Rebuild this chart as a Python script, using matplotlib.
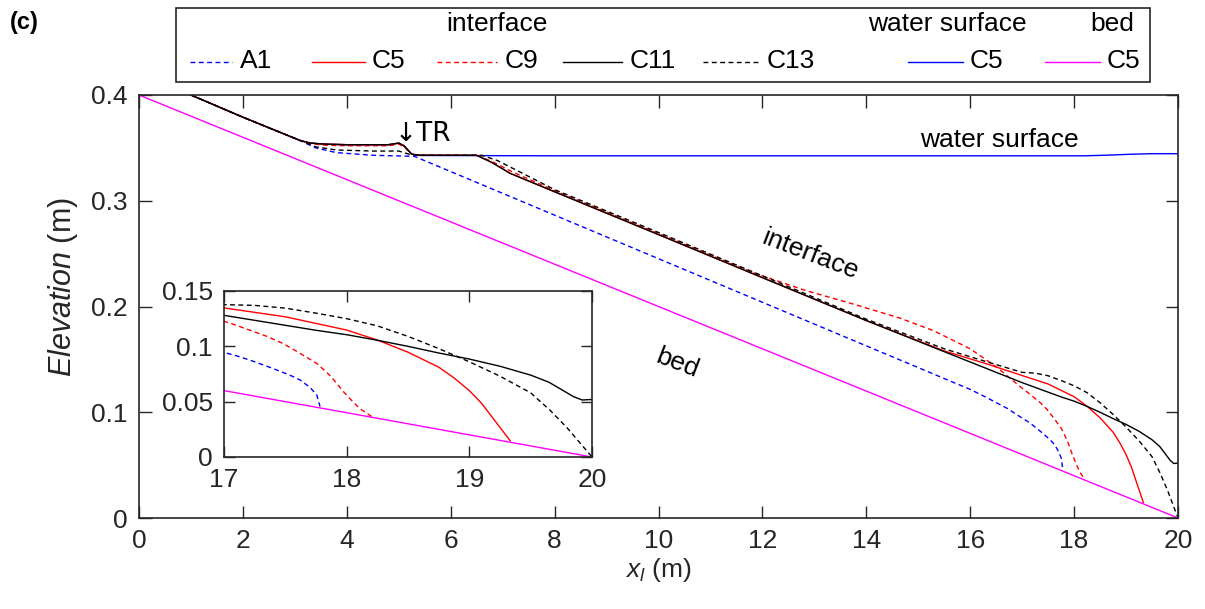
import matplotlib
matplotlib.use("Agg")
import matplotlib.pyplot as plt
from matplotlib.lines import Line2D
from matplotlib.patches import Rectangle

plt.rcParams['font.family'] = ['Liberation Sans', 'DejaVu Sans']
plt.rcParams['mathtext.fontset'] = 'custom'
plt.rcParams['mathtext.it'] = 'Liberation Sans:italic'
plt.rcParams['mathtext.rm'] = 'Liberation Sans'

# ---------------- data ----------------
bed_x = [0.0, 20.0]
bed_y = [0.4, 0.0]

water_x = [1.0, 2.0, 3.1, 3.3, 3.6, 4.0, 4.8, 5.0, 5.1, 5.25, 5.4, 8.0, 12.0, 16.0, 18.2, 18.7, 19.1, 19.5, 20.0]
water_y = [0.4, 0.379, 0.357, 0.3545, 0.3535, 0.353, 0.353, 0.3545, 0.352, 0.344, 0.3428, 0.3425, 0.3425, 0.3425,
           0.3425, 0.3432, 0.344, 0.3445, 0.3445]

A1_x = [1.0, 2.0, 3.1, 3.4, 3.8, 4.5, 5.3, 6.0, 8.0, 10.0, 12.0, 14.0, 15.5, 16.0, 16.3, 16.7, 17.0, 17.1,
        17.21, 17.35, 17.48, 17.56, 17.62, 17.7, 17.756, 17.783]
A1_y = [0.4, 0.379, 0.357, 0.350, 0.3455, 0.343, 0.342, 0.3276, 0.2864, 0.2452, 0.204, 0.1628, 0.1319, 0.1216,
        0.1143, 0.104, 0.0945, 0.0915, 0.0876, 0.082, 0.0765, 0.0728, 0.0696, 0.063, 0.0561, 0.0456]

C5_x = [1.0, 2.0, 3.1, 3.3, 3.6, 4.0, 4.8, 5.0, 5.1, 5.25, 5.4, 6.5, 6.8, 7.14, 8.0, 10.0, 12.0, 14.0, 15.5,
        16.3, 17.0, 17.5, 18.0, 18.25, 18.5, 18.75, 18.875, 19.0, 19.1, 19.2, 19.333]
C5_y = [0.4, 0.379, 0.357, 0.3545, 0.3535, 0.353, 0.353, 0.3545, 0.352, 0.344, 0.343, 0.343, 0.336, 0.326,
        0.3085, 0.268, 0.2273, 0.1867, 0.158, 0.146, 0.1347, 0.1267, 0.1147, 0.1057, 0.0947, 0.0812, 0.0715,
        0.060, 0.0485, 0.034, 0.0147]

C9_x = [1.0, 2.0, 3.1, 3.3, 3.6, 4.0, 4.8, 5.0, 5.1, 5.25, 5.4, 6.5, 6.8, 7.2, 8.0, 10.0, 11.8, 12.8, 13.7,
        14.65, 15.3, 16.0, 16.5, 17.0, 17.1, 17.21, 17.35, 17.48, 17.6, 17.756, 17.87, 17.974, 18.05, 18.11,
        18.17, 18.205]
C9_y = [0.4, 0.379, 0.357, 0.354, 0.3525, 0.352, 0.352, 0.3535, 0.351, 0.344, 0.343, 0.343, 0.337, 0.327,
        0.3095, 0.269, 0.2324, 0.2156, 0.203, 0.189, 0.177, 0.160, 0.143, 0.1227, 0.119, 0.1146, 0.109,
        0.1026, 0.095, 0.0846, 0.073, 0.059, 0.050, 0.0435, 0.039, 0.0365]

C11_x = [1.0, 2.0, 3.1, 3.3, 3.6, 4.0, 4.8, 5.0, 5.1, 5.25, 5.4, 6.5, 6.8, 7.14, 8.0, 10.0, 12.0, 14.0, 16.0,
         17.0, 17.25, 17.5, 17.75, 18.0, 18.25, 18.5, 18.75, 19.0, 19.25, 19.5, 19.65, 19.75, 19.85, 19.92, 20.0]
C11_y = [0.4, 0.379, 0.357, 0.3545, 0.3535, 0.353, 0.353, 0.3545, 0.352, 0.344, 0.343, 0.343, 0.336, 0.326,
         0.3085, 0.268, 0.2273, 0.1867, 0.1475, 0.128, 0.1235, 0.119, 0.1145, 0.1105, 0.1055, 0.100, 0.094,
         0.0885, 0.082, 0.074, 0.0675, 0.061, 0.0545, 0.0515, 0.052]

C13_x = [1.0, 2.0, 3.1, 3.4, 3.8, 4.5, 5.0, 5.2, 5.4, 6.6, 6.9, 7.3, 8.0, 10.0, 12.0, 14.0, 15.5, 16.3, 17.0,
         17.25, 17.5, 17.75, 18.0, 18.25, 18.5, 18.75, 19.0, 19.25, 19.5, 19.66, 19.8, 19.9, 20.0]
C13_y = [0.4, 0.379, 0.357, 0.351, 0.348, 0.347, 0.347, 0.344, 0.343, 0.343, 0.338, 0.328, 0.3105, 0.270,
         0.229, 0.188, 0.160, 0.148, 0.1377, 0.137, 0.1345, 0.130, 0.125, 0.1185, 0.109, 0.098, 0.086, 0.073,
         0.058, 0.042, 0.026, 0.013, 0.0]

main_xticks = [0, 2, 4, 6, 8, 10, 12, 14, 16, 18, 20]
main_yticks = [0, 0.1, 0.2, 0.3, 0.4]
main_yticklabels = ['0', '0.1', '0.2', '0.3', '0.4']
inset_xticks = [17, 18, 19, 20]
inset_yticks = [0, 0.05, 0.1, 0.15]
inset_yticklabels = ['0', '0.05', '0.1', '0.15']

# ---------------- styles ----------------
W, H = 1205, 609
fig = plt.figure(figsize=(W / 100, H / 100), dpi=100)
SP = '#262626'
FS = 19
DASH = (0, (3.5, 2.5))


def px2fig(x, y):
    return x / W, 1 - y / H


def style_axes(ax, ticklen):
    for s in ax.spines.values():
        s.set_color(SP)
        s.set_linewidth(1.2)
    ax.tick_params(direction='in', length=ticklen, width=1.0, colors=SP, labelcolor=SP,
                   top=True, right=True, labelsize=FS, pad=8)


series = [
    (water_x, water_y, dict(color='#0000ff', lw=1.0, ls='-')),
    (A1_x, A1_y, dict(color='#0000ff', lw=1.0, ls=DASH)),
    (C5_x, C5_y, dict(color='#ff0000', lw=1.0, ls='-')),
    (C9_x, C9_y, dict(color='#ff0000', lw=1.0, ls=DASH)),
    (C11_x, C11_y, dict(color='black', lw=1.0, ls='-')),
    (C13_x, C13_y, dict(color='black', lw=1.0, ls=DASH)),
    (bed_x, bed_y, dict(color='#ff00ff', lw=1.0, ls='-')),
]

l, b = px2fig(139, 518)
r, t = px2fig(1178, 95)
ax = fig.add_axes([l, b, r - l, t - b])
for xs, ys, st in series:
    ax.plot(xs, ys, **st)
ax.set_xlim(0, 20)
ax.set_ylim(0, 0.4)
ax.set_xticks(main_xticks)
ax.set_yticks(main_yticks)
ax.set_yticklabels(main_yticklabels)
style_axes(ax, 9)
ax.set_xlabel(r'$x_l$ (m)', fontsize=FS, color=SP, labelpad=2)
fx, fy = px2fig(63, 287)
fig.text(fx, fy, r'$Elevation$ (m)', rotation=90, ha='center', va='center', fontsize=22, color=SP)

ax.text(16.57, 0.3575, 'water surface', ha='center', va='center', fontsize=FS, color='black')
ax.text(12.92, 0.2487, 'interface', ha='center', va='center', fontsize=FS, color='black', rotation=-21)
ax.text(10.36, 0.1466, 'bed', ha='center', va='center', fontsize=FS, color='black', rotation=-21)
ax.text(4.93, 0.3565, '\u2193TR', ha='left', va='baseline', fontsize=FS, color='black',
        family=['DejaVu Sans'])

# inset
l2, b2 = px2fig(224, 457)
r2, t2 = px2fig(592, 291)
axi = fig.add_axes([l2, b2, r2 - l2, t2 - b2])
for xs, ys, st in series:
    axi.plot(xs, ys, **st)
axi.set_xlim(17, 20)
axi.set_ylim(0, 0.15)
axi.set_xticks(inset_xticks)
axi.set_yticks(inset_yticks)
axi.set_yticklabels(inset_yticklabels)
style_axes(axi, 8)

# legend (manual, in figure pixels)
x0, y0 = px2fig(176, 82)
x1, y1 = px2fig(1150, 8)
fig.add_artist(Rectangle((x0, y0), x1 - x0, y1 - y0, transform=fig.transFigure, fill=False,
                         edgecolor=SP, lw=1.2))
heads = [('interface', 497), ('water surface', 947), ('bed', 1112)]
for txt, cx in heads:
    fx, fy = px2fig(cx, 24)
    fig.text(fx, fy, txt, ha='center', va='center', fontsize=FS, color='black')
entries = [
    ('A1', 190, 232, 240, series[1][2]),
    ('C5', 312, 365, 372, series[2][2]),
    ('C9', 437, 497, 505, series[3][2]),
    ('C11', 563, 622, 630, series[4][2]),
    ('C13', 703, 760, 767, series[5][2]),
    ('C5', 908, 963, 970, series[0][2]),
    ('C5', 1045, 1100, 1107, series[6][2]),
]
for lab, sx0, sx1, tx, st in entries:
    a, yy = px2fig(sx0, 62)
    bb, _ = px2fig(sx1, 62)
    fig.add_artist(Line2D([a, bb], [yy, yy], transform=fig.transFigure, **st))
    fx, fy = px2fig(tx, 61)
    fig.text(fx, fy, lab, ha='left', va='center', fontsize=FS, color='black')

fx, fy = px2fig(10, 23)
fig.text(fx, fy, '(c)', ha='left', va='center', fontsize=17, fontweight='bold', color='black')

fig.savefig('out.png', dpi=100)
